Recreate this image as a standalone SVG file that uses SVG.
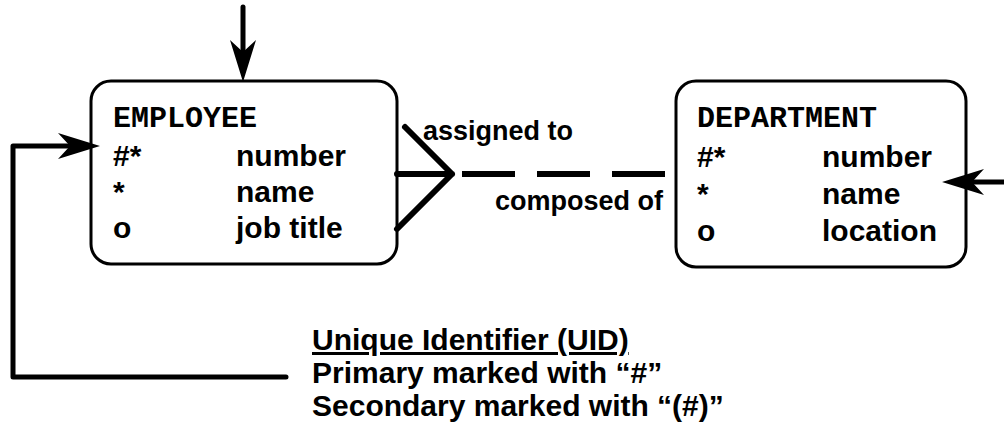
<svg xmlns="http://www.w3.org/2000/svg" width="1004" height="429" viewBox="0 0 1004 429">
  <style>
    .box { fill: #ffffff; stroke: #000000; stroke-width: 3; }
    .title { font-family: "Liberation Mono", "Courier New", monospace; font-weight: bold; font-size: 30px; fill: #000; }
    .attr { font-family: "Liberation Sans", Arial, sans-serif; font-weight: bold; font-size: 30px; fill: #000; }
    .lbl { font-family: "Liberation Sans", Arial, sans-serif; font-weight: bold; font-size: 27px; fill: #000; }
    .conn { fill: none; stroke: #000; stroke-width: 5; stroke-linecap: round; stroke-linejoin: round; }
    .rel { fill: none; stroke: #000; stroke-width: 6; stroke-linecap: round; }
  </style>
  <defs>
    <marker id="barb" viewBox="-14 -15 46 30" markerWidth="46" markerHeight="30" refX="0" refY="0" markerUnits="userSpaceOnUse" orient="auto">
      <path d="M30,0 L-12,-13 L0,0 L-12,13 Z" fill="#000"/>
    </marker>
  </defs>

  <g id="employee">
    <rect class="box" x="91" y="81" width="306" height="183" rx="20" ry="20"/>
    <text class="title" x="113" y="127">EMPLOYEE</text>
    <text class="attr" x="113" y="166">#*</text>
    <text class="attr" x="236" y="166">number</text>
    <text class="attr" x="113" y="202">*</text>
    <text class="attr" x="236" y="202">name</text>
    <text class="attr" x="113" y="238">o</text>
    <text class="attr" x="236" y="238">job title</text>
  </g>

  <g id="department">
    <rect class="box" x="676" y="81" width="290" height="186" rx="20" ry="20"/>
    <text class="title" x="697" y="127">DEPARTMENT</text>
    <text class="attr" x="697" y="167">#*</text>
    <text class="attr" x="822" y="167">number</text>
    <text class="attr" x="697" y="204">*</text>
    <text class="attr" x="822" y="204">name</text>
    <text class="attr" x="697" y="241">o</text>
    <text class="attr" x="822" y="241">location</text>
  </g>

  <g id="connectors">
    <path class="conn" d="M243,7 L243,52" marker-end="url(#barb)"/>
    <path class="conn" d="M286,377 L13,377 L13,146 L70,146" marker-end="url(#barb)"/>
    <path class="conn" d="M1004,182 L972,182" marker-end="url(#barb)"/>
    <g id="relationship">
      <path class="rel" d="M405,127 L452,174 M397,174 L452,174 M397,229 L452,174"/>
      <path class="rel" d="M462,174 L665,174" stroke-dasharray="53 22" style="stroke-linecap:butt"/>
      <text class="lbl" x="423" y="140">assigned to</text>
      <text class="lbl" x="495" y="210">composed of</text>
    </g>
  </g>

  <g id="uid-note">
    <text class="attr" x="312" y="350" text-decoration="underline">Unique Identifier (UID)</text>
    <text class="attr" x="312" y="383">Primary marked with “#”</text>
    <text class="attr" x="312" y="416">Secondary marked with “(#)”</text>
  </g>
</svg>
